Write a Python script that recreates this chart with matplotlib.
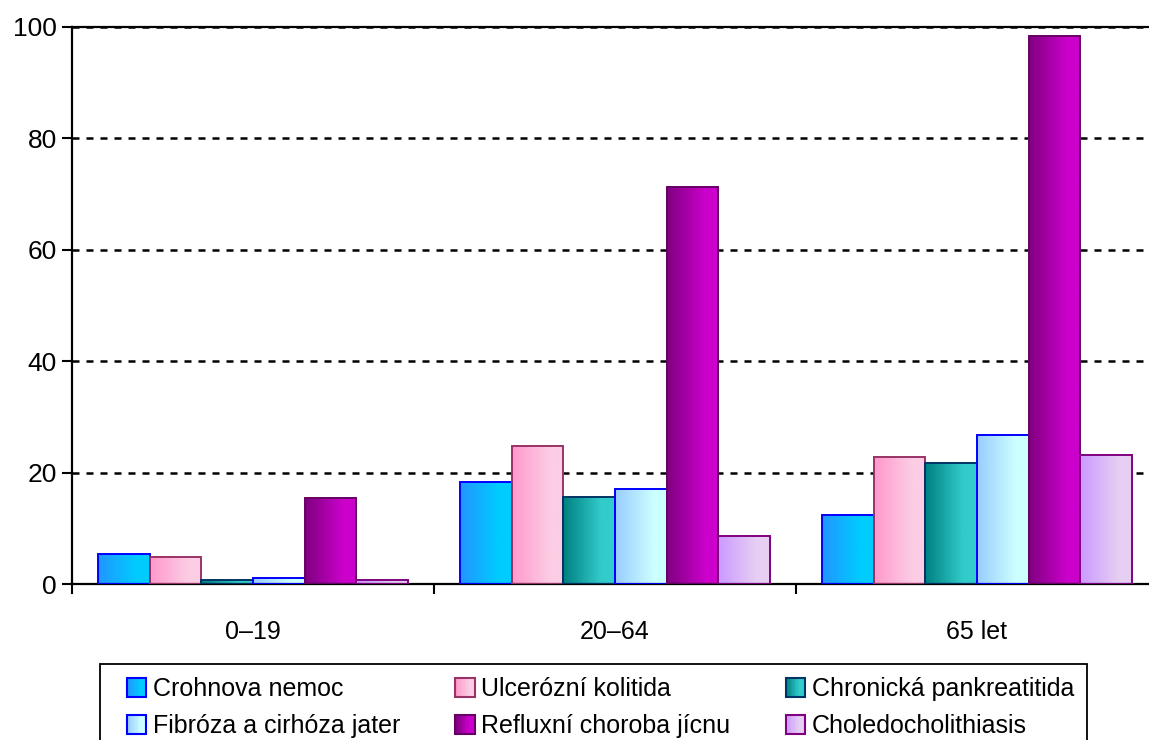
import numpy as np
import matplotlib
matplotlib.use("Agg")
import matplotlib.pyplot as plt
from matplotlib.patches import Rectangle, Patch
from matplotlib.legend_handler import HandlerBase
from matplotlib.colors import to_rgb

# ---------------- data ----------------
categories = ['0–19', '20–64', '65 let']
series_names = ['Crohnova nemoc', 'Ulcerózní kolitida', 'Chronická pankreatitida',
                'Fibróza a cirhóza jater', 'Refluxní choroba jícnu', 'Choledocholithiasis']
crohn = [5.3, 18.3, 12.3]
ulcer = [4.8, 24.8, 22.8]
pankr = [0.8, 15.7, 21.7]
fibr = [1.0, 17.0, 26.7]
reflux = [15.4, 71.3, 98.3]
chol = [0.7, 8.6, 23.2]
yticks = [0, 20, 40, 60, 80, 100]

series_values = [crohn, ulcer, pankr, fibr, reflux, chol]
# gradient (left colour, right colour, edge colour)
styles = [
    ('#2196FF', '#00CCFF', '#0000FF'),
    ('#FF99CC', '#FCCDE4', '#993366'),
    ('#008080', '#33CCCC', '#003366'),
    ('#99CCFF', '#CCFFFF', '#0000FF'),
    ('#800080', '#CC00CC', '#660066'),
    ('#CC99FF', '#E6CFF2', '#800080'),
]

FONT = ['Liberation Sans', 'DejaVu Sans']


def grad_array(c0, c1, n=64, reach=0.75):
    t = np.clip(np.linspace(0, 1, n) / reach, 0, 1)
    a = np.array(to_rgb(c0)); b = np.array(to_rgb(c1))
    return (a[None, :] * (1 - t[:, None]) + b[None, :] * t[:, None])[None, :, :]


W, H, DPI = 1149, 740, 100
fig = plt.figure(figsize=(W / DPI, H / DPI), dpi=DPI)
ax = fig.add_axes([72 / W, 156 / H, 1086 / W, 557 / H])

x = np.arange(len(categories))
bw = 1.0 / 7
for k, (vals, (c0, c1, ec)) in enumerate(zip(series_values, styles)):
    bars = ax.bar(x + (k - 2.5) * bw, vals, width=bw, facecolor='none',
                  edgecolor=ec, linewidth=1.4, zorder=3)
    g = grad_array(c0, c1)
    for b in bars:
        x0, y0 = b.get_x(), b.get_y()
        im = ax.imshow(g, extent=(x0, x0 + b.get_width(), y0, y0 + b.get_height()),
                       aspect='auto', interpolation='bilinear', zorder=2.5)
        im.set_clip_path(b)

ax.set_xlim(-0.5, len(categories) - 0.5)
ax.set_ylim(0, 100)

# spines
for s in ['left', 'bottom', 'top']:
    ax.spines[s].set_linewidth(1.6)
    ax.spines[s].set_color('black')
ax.spines['right'].set_visible(False)

# y axis
ax.set_yticks(yticks)
ax.tick_params(axis='y', direction='out', length=7, width=1.5, pad=4, labelsize=19)
for t in ax.get_yticklabels():
    t.set_family(FONT)
ax.yaxis.grid(True, color='black', linewidth=1.8, linestyle=(0, (2.8, 2.8)), zorder=1)
ax.set_axisbelow(True)

# x axis
ax.set_xticks(x)
ax.set_xticklabels(categories, fontsize=18, family=FONT)
ax.set_xticks(np.arange(len(categories) + 1) - 0.5, minor=True)
ax.tick_params(axis='x', which='major', length=0, pad=26)
ax.tick_params(axis='x', which='minor', direction='out', length=7, width=1.5)


# legend with gradient handles
class GradHandler(HandlerBase):
    def __init__(self, c0, c1, ec):
        super().__init__()
        self.c0, self.c1, self.ec = c0, c1, ec

    def create_artists(self, legend, orig_handle, xdescent, ydescent, width, height,
                       fontsize, trans):
        s = min(width, height)
        x0 = -xdescent
        y0 = -ydescent + (height - s) / 2
        arts = []
        n = 14
        g = grad_array(self.c0, self.c1, n=n)[0]
        for i in range(n):
            arts.append(Rectangle((x0 + i * s / n, y0), s / n + 0.3, s, facecolor=g[i],
                                  edgecolor='none', transform=trans))
        arts.append(Rectangle((x0, y0), s, s, facecolor='none', edgecolor=self.ec,
                              linewidth=1.5, transform=trans))
        return arts


proxies = [Patch(label=n) for n in series_names]
hmap = {p: GradHandler(*st) for p, st in zip(proxies, styles)}
# ncol=3 fills column-wise; reorder so rows read like the reference
order = [0, 3, 1, 4, 2, 5]
leg = fig.legend([proxies[i] for i in order], [series_names[i] for i in order],
                 handler_map=hmap, ncol=3, loc='upper left',
                 bbox_to_anchor=(127 / W, (740 - 677) / H),
                 frameon=False, borderpad=0, borderaxespad=0,
                 handlelength=0.8, handleheight=0.8, handletextpad=0.24,
                 columnspacing=2.2, labelspacing=0.52,
                 prop={'family': FONT, 'size': 18})

frame = Rectangle((100 / W, -5 / H), 987 / W, 81 / H,
                  transform=fig.transFigure, facecolor='none', edgecolor='black',
                  linewidth=1.3)
fig.patches.append(frame)

fig.savefig('out.png', dpi=DPI)
